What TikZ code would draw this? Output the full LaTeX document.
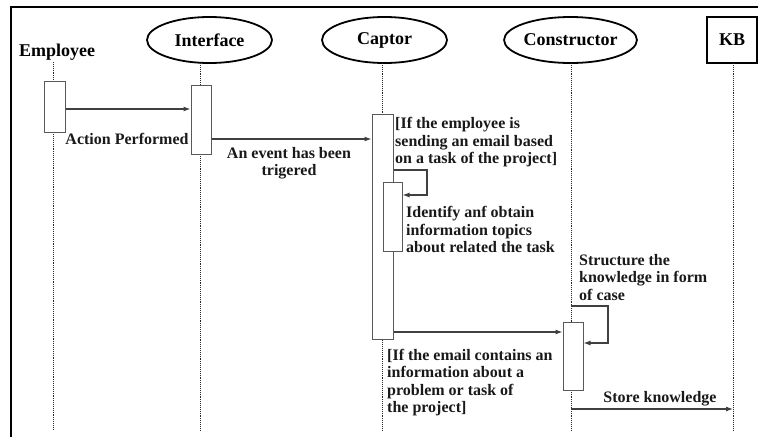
\documentclass[tikz,border=0pt]{standalone}
\usepackage{fontspec}
\setmainfont{Liberation Serif}
\usetikzlibrary{shapes.geometric}
\usetikzlibrary{arrows.meta}
\usetikzlibrary{positioning}

\begin{document}
\begin{tikzpicture}[x=1pt,y=-1pt,
  head/.style={font=\fontsize{18}{20}\selectfont\bfseries,inner sep=0pt},
  actor/.style={head,ellipse,draw=black,line width=1.8pt,minimum width=125pt,minimum height=46pt},
  lifeline/.style={draw=black!85,densely dotted,line width=0.9pt},
  actbox/.style={draw=black!65,fill=white,line width=1pt,inner sep=0pt},
  msg/.style={draw=black!75,line width=1.1pt,-{Latex[length=7pt,width=5pt]}},
  lbl/.style={font=\fontsize{16}{17.5}\selectfont\bfseries,inner sep=0pt,text=black!90}]
\useasboundingbox (0,0) rectangle (758,437);
\draw[line width=2pt] (11,437) -- (11,7) -- (758,7);

% heads
\node[head] (emp) at (57,52) {Employee};
\node[actor] (intf) at (209.5,40) {Interface};
\node[actor] (capt) at (384.5,40) {Captor};
\node[actor] (cons) at (570.5,40) {Constructor};
\node[head,draw=black,line width=1.8pt,minimum width=50pt,minimum height=46pt] (kb) at (732,40) {KB};

% lifelines
\coordinate (emptop) at (53,62);   \coordinate (empbot) at (53,430);
\coordinate (intftop) at (200,63); \coordinate (intfbot) at (200,430);
\coordinate (capttop) at (382,63); \coordinate (captbot) at (382,430);
\coordinate (constop) at (571,63); \coordinate (consbot) at (571,430);
\coordinate (kbtop) at (733,63);   \coordinate (kbbot) at (733,430);
\draw[lifeline] (emptop) -- (empbot);
\draw[lifeline] (intftop) -- (intfbot);
\draw[lifeline] (capttop) -- (captbot);
\draw[lifeline] (constop) -- (consbot);
\draw[lifeline] (kbtop) -- (kbbot);

% activation boxes
\node[actbox,minimum width=21pt,minimum height=51pt] (empbox) at (54.5,106.5) {};
\node[actbox,minimum width=20pt,minimum height=69pt] (intfbox) at (201,119.5) {};
\node[actbox,minimum width=21pt,minimum height=225pt] (captbox) at (382.5,226.5) {};
\node[actbox,minimum width=19pt,minimum height=69pt] (inbox) at (392.5,216.5) {};
\node[actbox,minimum width=20pt,minimum height=68pt] (consbox) at (573,356) {};

% messages
\draw[msg] (empbox.east |- 0,109) -- (intfbox.west |- 0,109);
\node[lbl] (act) at (127,139) {Action Performed};
\draw[msg] (intfbox.east |- 0,139) -- (captbox.west |- 0,139);
\node[lbl,align=center] (event) at (289,163) {An event has been\\trigered};

\node[lbl,align=left,anchor=west] (cond1) at (395,142.5) {[If the employee is\\sending an email based\\on a task of the project]};
\draw[msg] (captbox.east |- 0,170) -- (427,170) -- (427,195) -- (inbox.east |- 0,195);
\node[lbl,align=left,anchor=west] (ident) at (406,229.5) {Identify anf obtain\\information topics\\about related the task};

\draw[msg] (captbox.east |- 0,332) -- (consbox.west |- 0,332);
\node[lbl,align=left,anchor=west] (cond2) at (387,382.5) {[If the email contains an\\information about a\\problem or task of\\the project]};

\node[lbl,align=left,anchor=west] (struct) at (579,277.5) {Structure the\\knowledge in form\\of case};
\draw[msg] (constop |- 0,306) -- (608,306) -- (608,343) -- (consbox.east |- 0,343);

\draw[msg] (constop |- 0,409) -- (kbtop |- 0,409);
\node[lbl] (store) at (660,399) {Store knowledge};

\end{tikzpicture}
\end{document}
